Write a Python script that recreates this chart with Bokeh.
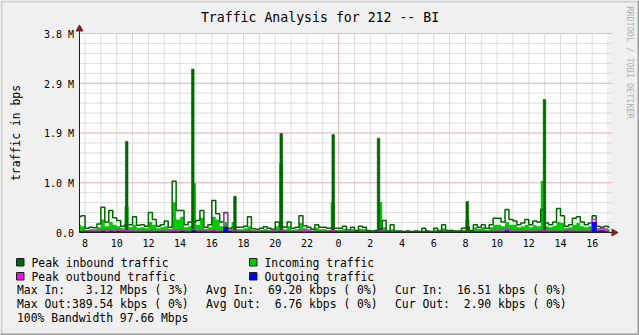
import numpy as np
from math import pi
from bokeh.plotting import figure
from bokeh.models import Range1d
from bokeh.core.properties import value
from bokeh.embed import file_html
from bokeh.resources import INLINE

# ---------------- data (Mbps, 15-minute bins starting at 07:30 day 1) ----------------
START_HOUR = 7.5
BIN_HOURS = 0.25

peak_in = [
    0.30, 0.32,
    0.08, 0.10, 0.09, 0.16,   # 8
    0.48, 0.20, 0.42, 0.28,   # 9
    0.23, 0.12, 0.15, 0.15,   # 10
    0.30, 0.14, 0.15, 0.12,   # 11
    0.38, 0.25, 0.12, 0.15,   # 12
    0.22, 0.10, 0.98, 0.42,   # 13
    0.42, 0.15, 0.20, 0.20,   # 14
    0.23, 0.42, 0.10, 0.15,   # 15
    0.61, 0.36, 0.20, 0.38,   # 16
    0.08, 0.10, 0.10, 0.10,   # 17
    0.12, 0.30, 0.07, 0.06,   # 18
    0.08, 0.11, 0.08, 0.06,   # 19
    0.20, 0.12, 0.10, 0.20,   # 20
    0.08, 0.10, 0.32, 0.13,   # 21
    0.10, 0.06, 0.15, 0.10,   # 22
    0.10, 0.08, 0.08, 0.08,   # 23
    0.08, 0.12, 0.05, 0.10,   # 0
    0.04, 0.12, 0.10, 0.04,   # 1
    0.03, 0.04, 0.06, 0.23,   # 2
    0.03, 0.15, 0.03, 0.03,   # 3
    0.02, 0.03, 0.02, 0.03,   # 4
    0.02, 0.08, 0.03, 0.02,   # 5
    0.08, 0.04, 0.15, 0.04,   # 6
    0.04, 0.03, 0.03, 0.08,   # 7
    0.10, 0.04, 0.15, 0.10,   # 8
    0.15, 0.08, 0.15, 0.27,   # 9
    0.27, 0.20, 0.44, 0.25,   # 10
    0.22, 0.15, 0.18, 0.25,   # 11
    0.15, 0.22, 0.20, 0.44,   # 12
    0.18, 0.15, 0.20, 0.46,   # 13
    0.32, 0.12, 0.15, 0.27,   # 14
    0.30, 0.20, 0.15, 0.18,   # 15
    0.32, 0.12, 0.10, 0.12,   # 16
    0.10,
]

# short peak-inbound spikes (narrower than one 15-minute bin): hour of day-1 axis, Mbps
spike_hours = [10.63, 14.80, 17.46, 20.38, 23.66, 26.52, 32.12, 36.99]
spike_peak = [1.74, 3.12, 0.69, 1.89, 1.87, 1.80, 0.59, 2.54]

incoming = [
    0.15, 0.12,
    0.05, 0.06, 0.06, 0.10,
    0.25, 0.12, 0.20, 0.15,
    0.12, 0.08, 0.50, 0.10,
    0.15, 0.09, 0.10, 0.08,
    0.20, 0.15, 0.08, 0.10,
    0.12, 0.07, 0.58, 0.25,
    0.30, 0.10, 0.12, 0.94,
    0.15, 0.28, 0.07, 0.10,
    0.30, 0.25, 0.12, 0.20,
    0.05, 0.20, 0.06, 0.06,
    0.08, 0.12, 0.05, 0.04,
    0.05, 0.07, 0.05, 0.04,
    0.12, 1.32, 0.06, 0.12,
    0.05, 0.06, 0.18, 0.08,
    0.06, 0.04, 0.09, 0.06,
    0.06, 0.05, 0.58, 0.05,
    0.05, 0.07, 0.03, 0.06,
    0.03, 0.07, 0.06, 0.03,
    0.02, 0.03, 0.58, 0.10,
    0.02, 0.06, 0.02, 0.02,
    0.02, 0.02, 0.02, 0.02,
    0.02, 0.04, 0.02, 0.02,
    0.05, 0.03, 0.08, 0.03,
    0.03, 0.02, 0.02, 0.05,
    0.25, 0.03, 0.10, 0.07,
    0.10, 0.05, 0.10, 0.15,
    0.15, 0.12, 0.20, 0.15,
    0.15, 0.10, 0.12, 0.15,
    0.10, 0.14, 0.12, 0.99,
    0.12, 0.10, 0.13, 0.20,
    0.18, 0.08, 0.10, 0.15,
    0.18, 0.12, 0.10, 0.12,
    0.15, 0.08, 0.06, 0.08,
    0.06,
]

peak_out = [
    0.02, 0.02,
    0.02, 0.03, 0.02, 0.03,
    0.05, 0.04, 0.05, 0.03,
    0.06, 0.03, 0.04, 0.03,
    0.02, 0.03, 0.02, 0.02,
    0.03, 0.02, 0.02, 0.03,
    0.02, 0.03, 0.04, 0.03,
    0.05, 0.03, 0.02, 0.06,
    0.03, 0.04, 0.02, 0.03,
    0.04, 0.03, 0.02, 0.37,
    0.05, 0.03, 0.02, 0.02,
    0.02, 0.03, 0.02, 0.02,
    0.02, 0.02, 0.02, 0.03,
    0.02, 0.04, 0.02, 0.02,
    0.02, 0.02, 0.03, 0.04,
    0.03, 0.02, 0.02, 0.02,
    0.02, 0.02, 0.04, 0.02,
    0.02, 0.02, 0.01, 0.02,
    0.01, 0.02, 0.01, 0.01,
    0.01, 0.01, 0.03, 0.02,
    0.01, 0.01, 0.01, 0.01,
    0.01, 0.01, 0.01, 0.01,
    0.01, 0.01, 0.02, 0.01,
    0.01, 0.01, 0.02, 0.01,
    0.01, 0.01, 0.01, 0.02,
    0.02, 0.01, 0.02, 0.02,
    0.02, 0.02, 0.02, 0.03,
    0.03, 0.02, 0.07, 0.03,
    0.02, 0.03, 0.02, 0.03,
    0.02, 0.03, 0.02, 0.04,
    0.03, 0.02, 0.03, 0.02,
    0.02, 0.05, 0.02, 0.03,
    0.02, 0.03, 0.02, 0.03,
    0.25, 0.05, 0.08, 0.03,
    0.02,
]

outgoing = [
    0.01, 0.01,
    0.01, 0.01, 0.01, 0.01,
    0.02, 0.01, 0.02, 0.01,
    0.02, 0.01, 0.02, 0.01,
    0.01, 0.01, 0.01, 0.01,
    0.01, 0.01, 0.01, 0.01,
    0.01, 0.01, 0.02, 0.01,
    0.02, 0.01, 0.01, 0.03,
    0.01, 0.02, 0.01, 0.01,
    0.02, 0.01, 0.01, 0.10,
    0.02, 0.01, 0.01, 0.01,
    0.01, 0.01, 0.01, 0.01,
    0.01, 0.01, 0.01, 0.01,
    0.01, 0.02, 0.01, 0.01,
    0.01, 0.01, 0.01, 0.01,
    0.01, 0.01, 0.01, 0.01,
    0.01, 0.01, 0.02, 0.01,
    0.01, 0.01, 0.01, 0.01,
    0.01, 0.01, 0.01, 0.01,
    0.01, 0.01, 0.01, 0.01,
    0.01, 0.01, 0.01, 0.01,
    0.01, 0.01, 0.01, 0.01,
    0.01, 0.01, 0.01, 0.01,
    0.01, 0.01, 0.01, 0.01,
    0.01, 0.01, 0.01, 0.01,
    0.01, 0.01, 0.01, 0.01,
    0.01, 0.01, 0.01, 0.01,
    0.01, 0.01, 0.03, 0.01,
    0.01, 0.01, 0.01, 0.01,
    0.01, 0.01, 0.01, 0.02,
    0.01, 0.01, 0.01, 0.01,
    0.01, 0.02, 0.01, 0.01,
    0.01, 0.01, 0.01, 0.01,
    0.19, 0.02, 0.03, 0.01,
    0.01,
]

y_ticks = [0, 950000, 1900000, 2850000, 3800000]
y_tick_labels = ["0.0", "1.0 M", "1.9 M", "2.9 M", "3.8 M"]
y_minor = [190000 * i for i in range(1, 20)]
x_ticks = list(range(8, 41, 2))
x_tick_labels = [str(h % 24) for h in x_ticks]
x_minor = list(range(8, 42))
x_major = [24]

title_text = "Traffic Analysis for 212 -- BI"
y_title = "traffic in bps"
watermark = "RRDTOOL / TOBI OETIKER"
legend_names = ["Peak inbound traffic", "Incoming traffic", "Peak outbound traffic", "Outgoing traffic"]
legend_colors = ["#006600", "#00cc00", "#ff00ff", "#0000ff"]
stats_heads = ["Max In:", "Avg In:", "Cur In:", "Max Out:", "Avg Out:", "Cur Out:"]
stats_values = ["3.12 Mbps ( 3%)", "69.20 kbps ( 0%)", "16.51 kbps ( 0%)",
                "389.54 kbps ( 0%)", "6.76 kbps ( 0%)", "2.90 kbps ( 0%)"]
bandwidth_text = "100% Bandwidth 97.66 Mbps"

# ---------------- layout (pixel geometry of the RRDtool canvas) ----------------
W, H = 639, 335
FL, FR, FT, FB = 79, 609, 33, 232
PX_PER_HOUR = 15.85
H0 = 8 - (84.5 - FL) / PX_PER_HOUR
H1 = 8 + (FR - 84.5) / PX_PER_HOUR
YMAX = 3800000
FONT = "DejaVu Sans Mono"
TY = 0.5   # text placement correction (px)
SPIKE_W = 2.6 / PX_PER_HOUR

def dx(px):
    return H0 + (px - FL) / (FR - FL) * (H1 - H0)

def dy(py):
    return (FB - py) / (FB - FT) * YMAX

p = figure(width=W, height=H, output_backend="svg", toolbar_location=None,
           x_axis_type=None, y_axis_type=None, min_border=0,
           x_range=Range1d(dx(0), dx(W)), y_range=Range1d(dy(H), dy(0)))
p.background_fill_color = "#f0f0f0"
p.border_fill_color = "#f0f0f0"
p.outline_line_color = None

# shaded canvas edges
p.quad(left=[dx(0), dx(0), dx(0), dx(637)], right=[dx(639), dx(2), dx(639), dx(639)],
       top=[dy(0), dy(0), dy(333), dy(0)], bottom=[dy(2), dy(335), dy(335), dy(335)],
       fill_color=["#cfcfcf", "#cfcfcf", "#9e9e9e", "#9e9e9e"], line_color=None)

# white plot canvas
p.quad(left=[H0], right=[H1], bottom=[0], top=[YMAX], fill_color="white", line_color=None,
       level="image")

# grid
p.segment(x0=x_minor, y0=0, x1=x_minor, y1=YMAX, line_color="#dcdcdc", line_width=1, level="underlay")
p.segment(x0=H0, y0=y_minor, x1=dx(612), y1=y_minor, line_color="#dcdcdc", line_width=1, level="underlay")
p.segment(x0=x_major, y0=0, x1=x_major, y1=YMAX, line_color="#ecbcbc", line_width=1, level="underlay")
p.segment(x0=H0, y0=y_ticks[1:], x1=dx(612), y1=y_ticks[1:], line_color="#ecbcbc", line_width=1,
          level="underlay")

# series
n = len(peak_in)
t = np.clip(START_HOUR + BIN_HOURS * np.arange(n + 1), H0, H1)

def ext(v):
    v = np.array(v, dtype=float) * 1e6
    return np.append(v, v[-1])

p.varea_step(x=t, y1=np.zeros(n + 1), y2=ext(incoming), step_mode="after", fill_color="#00cc00")
p.step(t, ext(peak_in), mode="after", line_color="#006600", line_width=1.5)
p.vbar(x=spike_hours, width=SPIKE_W, bottom=0, top=np.array(spike_peak) * 1e6,
       fill_color="#006600", line_color="#006600", line_width=0.6)
p.step(t, ext(peak_out), mode="after", line_color="#ff00ff", line_width=1.3)
p.varea_step(x=t, y1=np.zeros(n + 1), y2=ext(outgoing), step_mode="after", fill_color="#0000ff")
p.step(t, ext(outgoing), mode="after", line_color="#0000ff", line_width=1)

# axes lines and arrows
p.segment(x0=[H0, H0], y0=[0, 0], x1=[H0, dx(612)], y1=[dy(29), 0], line_color="#1f1f1f", line_width=1)
p.scatter(x=[H0], y=[dy(28.5)], marker="triangle", size=7, fill_color="#7f1f1f", line_color="#7f1f1f")
p.scatter(x=[dx(613.5)], y=[0], marker="triangle", angle=-pi / 2, size=7,
          fill_color="#7f1f1f", line_color="#7f1f1f")

def tx(px, py, text, size, align="left", color="black", angle=0.0, baseline="alphabetic"):
    p.text(x=[dx(v) for v in px], y=[dy(v + TY) for v in py], text=text, angle=angle,
           text_align=align, text_baseline=baseline, text_font=value(FONT),
           text_font_size=value(size), text_color=color)

# tick labels
px_per_val = (FB - FT) / YMAX
tx([73.5] * len(y_ticks), [FB - v * px_per_val + 0.3 for v in y_ticks], y_tick_labels, "10px",
   align="right")
p.text(x=x_ticks, y=dy(242 + TY), text=x_tick_labels, text_align="center",
       text_baseline="alphabetic", text_font=value(FONT), text_font_size=value("10px"),
       text_color="black")

# title, axis title, watermark
tx([319.5], [16.4], [title_text], "13.2px", align="center")
tx([15.5], [(FT + FB) / 2 - TY], [y_title], "11.4px", align="center", angle=pi / 2,
   baseline="middle")
tx([629], [62 - TY], [watermark], "8.5px", align="center", angle=-pi / 2, baseline="middle",
   color="#b0b0b0")

# legend
CW = 6.88
LS = "11.4px"
p.rect(x=[dx(19.75), dx(252.75), dx(19.75), dx(252.75)],
       y=[dy(261.75), dy(261.75), dy(275.75), dy(275.75)],
       width=7.5, height=7.5, width_units="screen", height_units="screen",
       fill_color=legend_colors, line_color="#202020", line_width=1)
tx([31, 264, 31, 264], [261.8, 261.8, 275.6, 275.6], legend_names, LS)

# statistics lines
col_x = [16.5, 205.5, 394.5]
row_mid = [289.2, 303.3]
val_idx = [10, 9, 9, 8, 10, 10]
hx, hy, vx, vy = [], [], [], []
for i in range(6):
    r, c = divmod(i, 3)
    hx.append(col_x[c])
    hy.append(row_mid[r])
    vx.append(col_x[c] + val_idx[i] * CW)
    vy.append(row_mid[r])
tx(hx, hy, stats_heads, LS)
tx(vx, vy, stats_values, LS)
tx([16.5], [317.2], [bandwidth_text], LS)

open("out.html", "w").write(file_html(p, INLINE))
